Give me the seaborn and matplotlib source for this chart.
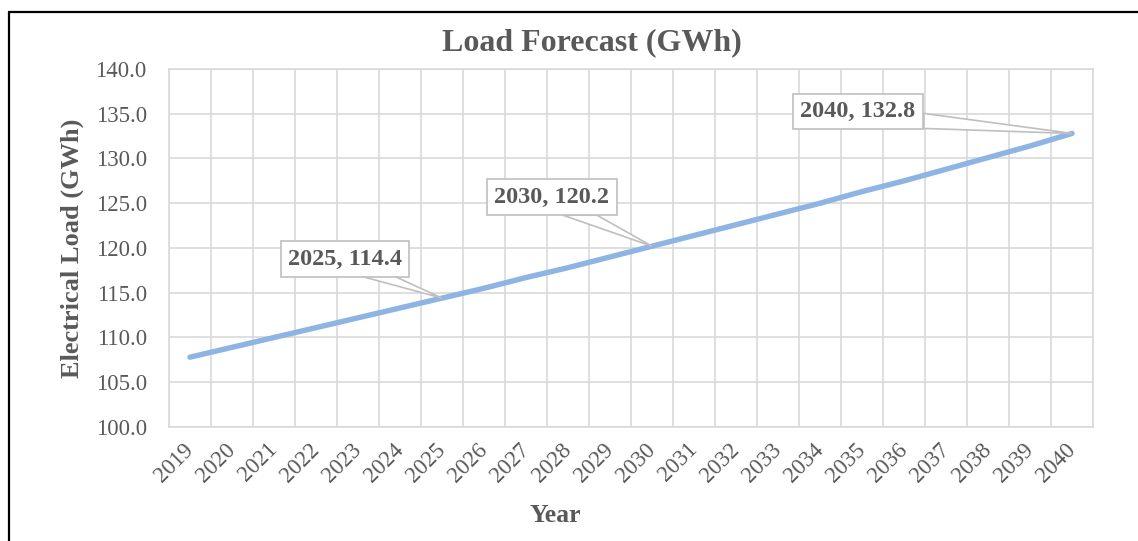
import matplotlib
matplotlib.use("Agg")
import matplotlib.pyplot as plt
from matplotlib.lines import Line2D
from matplotlib.patches import Polygon
from matplotlib.transforms import Affine2D, IdentityTransform
import seaborn as sns
import pandas as pd

years = list(range(2019, 2041))
load_gwh = [107.8, 108.9, 110.0, 111.1, 112.2, 113.3, 114.4, 115.5, 116.7, 117.8, 119.0,
            120.2, 121.4, 122.6, 123.8, 125.0, 126.3, 127.5, 128.8, 130.1, 131.4, 132.8]
y_ticks = [100, 105, 110, 115, 120, 125, 130, 135, 140]
callout_years = [2025, 2030, 2040]
# label box centre, relative to the point (pixels)
callout_offsets = [(-97, 39), (-100, 49), (-214, 22)]
# callout pointer base, relative to the point (pixels)
callout_bases = [((-85, 23), (-50, 23)), ((-89, 31), (-55, 31)), ((-148, 20), (-148, 5))]

df = pd.DataFrame({"Year": years, "Load": load_gwh})

sns.set_theme(style="white")
plt.rcParams["font.family"] = ["Liberation Serif", "DejaVu Serif"]
txt = "#595959"
grid = "#d9d9d9"

fig = plt.figure(figsize=(11.38, 5.41), dpi=100)
ax = fig.add_axes([169 / 1138, 1 - 427 / 541, (1093 - 169) / 1138, (427 - 69) / 541])

sns.lineplot(data=df, x="Year", y="Load", ax=ax, color="#8eb4e3", linewidth=3.9,
             solid_capstyle="round", zorder=3)

ax.set_xlim(years[0] - 0.5, years[-1] + 0.5)
ax.set_ylim(y_ticks[0], y_ticks[-1])
ax.set_yticks(y_ticks)
ax.set_yticklabels([f"{v:.1f}" for v in y_ticks], fontsize=16.5, color=txt)
ax.set_xticks(years)
ax.set_xticklabels([str(y) for y in years], fontsize=16.5, color=txt, rotation=45,
                   ha="right", va="center", rotation_mode="anchor")
ax.set_xticks([y + 0.5 for y in [years[0] - 1] + years], minor=True)
ax.tick_params(axis="both", which="both", length=0)
ax.tick_params(axis="y", pad=16)
ax.tick_params(axis="x", pad=14)
ax.grid(True, axis="y", which="major", color=grid, linewidth=1.2)
ax.grid(True, axis="x", which="minor", color=grid, linewidth=1.2)
ax.grid(False, axis="x", which="major")
for s in ax.spines.values():
    s.set_color(grid)
    s.set_linewidth(1.2)
ax.set_xlabel("")
ax.set_ylabel("")

for yr, (dx, dy), (b1, b2) in zip(callout_years, callout_offsets, callout_bases):
    v = load_gwh[years.index(yr)]
    px, py = ax.transData.transform((yr, v))
    tri = Polygon([(0, 0), b1, b2], closed=True, fc="white", ec="#bfbfbf", lw=1.2,
                  transform=IdentityTransform() + Affine2D().translate(px, py), zorder=4)
    ax.add_artist(tri)
    ax.annotate(f"{yr}, {v}", xy=(yr, v), xytext=(dx, dy), textcoords="offset pixels",
                ha="center", va="center", fontsize=17.5, fontweight="bold", color=txt,
                bbox=dict(boxstyle="square,pad=0.3", fc="white", ec="#bfbfbf", lw=1.2),
                zorder=5)

fig.text(592 / 1138, 1 - 43 / 541, "Load Forecast (GWh)", ha="center", va="center",
         fontsize=23, fontweight="bold", color=txt)
fig.text(555 / 1138, 1 - 516 / 541, "Year", ha="center", va="center",
         fontsize=18.5, fontweight="bold", color=txt)
fig.text(72 / 1138, 1 - 248 / 541, "Electrical Load (GWh)", ha="center", va="center",
         rotation=90, fontsize=19, fontweight="bold", color=txt)

# outer chart border (only left and top visible in the crop)
fig.add_artist(Line2D([8.5 / 1138, 8.5 / 1138], [0, 1 - 12 / 541], color="black", lw=1.6,
                      transform=fig.transFigure))
fig.add_artist(Line2D([8.5 / 1138, 1], [1 - 12 / 541, 1 - 12 / 541], color="black", lw=1.6,
                      transform=fig.transFigure))

fig.savefig("out.png", dpi=100)
